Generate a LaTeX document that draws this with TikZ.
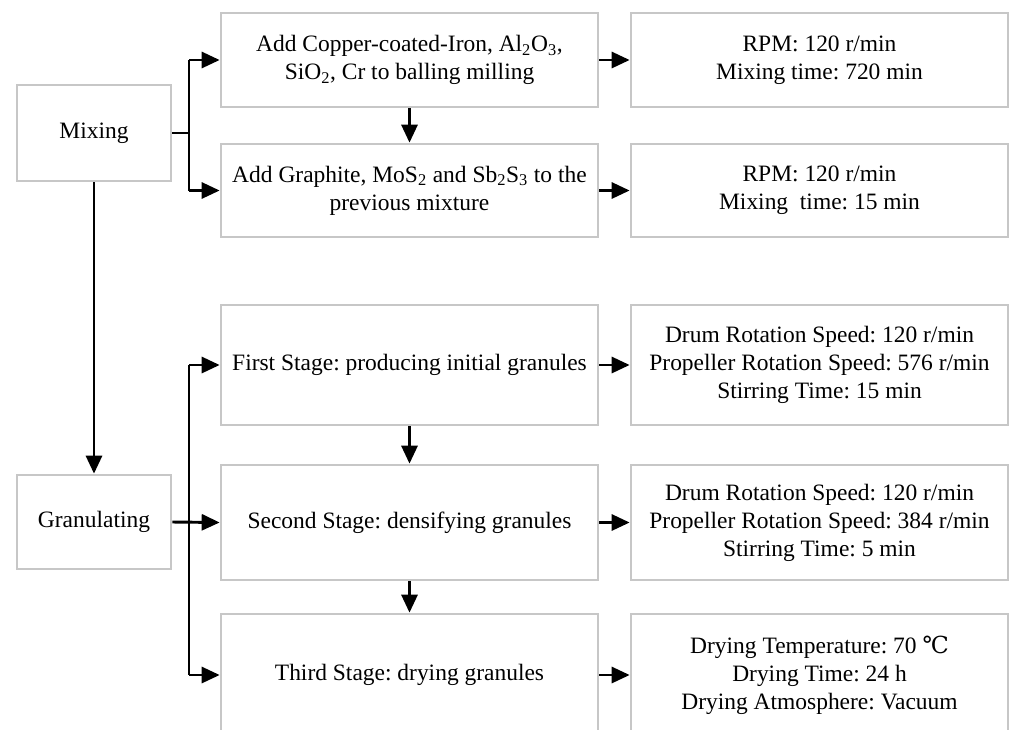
\documentclass[tikz,border=0pt]{standalone}
\usepackage{fontspec}
\setmainfont{Liberation Serif}
\newfontfamily\symfont{DejaVu Serif}
\usetikzlibrary{arrows.meta}
\frenchspacing
\begin{document}
\begin{tikzpicture}[x=0.75pt,y=-0.75pt,
  box/.style={draw=black!22,line width=2pt,fill=white,align=center,inner sep=0pt,
    font=\fontsize{17.6}{21}\selectfont\frenchspacing},
  lbox/.style={box,minimum width=282.75pt},
  conn/.style={line width=2.2pt,black},
  arr/.style={conn,-{Triangle[length=13.5pt,width=12pt]}}]
\useasboundingbox (0,0) rectangle (1011,729);
\clip (0,0) rectangle (1011,729);
% left column
\node[box,minimum width=115.5pt,minimum height=72pt] (mix) at (94,133) {Mixing};
\node[box,minimum width=115.5pt,minimum height=70.5pt] (gran) at (94,522) {Granulating};
% middle column
\node[lbox,minimum height=70.5pt] (a1) at (409.5,60) {Add Copper-coated-Iron, Al\textsubscript{2}O\textsubscript{3},\\SiO\textsubscript{2}, Cr to balling milling};
\node[lbox,minimum height=69.75pt] (a2) at (409.5,190.5) {Add Graphite, MoS\textsubscript{2} and Sb\textsubscript{2}S\textsubscript{3} to the\\previous mixture};
\node[lbox,minimum height=90pt] (s1) at (409.5,365) {First Stage: producing initial granules};
\node[lbox,minimum height=86.25pt] (s2) at (409.5,522.5) {Second Stage: densifying granules};
\node[lbox,minimum height=91.5pt] (s3) at (409.5,675) {Third Stage: drying granules};
% right column
\node[lbox,minimum height=70.5pt] (r1) at (819.5,60) {RPM: 120 r/min\\Mixing time: 720 min};
\node[lbox,minimum height=69.75pt] (r2) at (819.5,190.5) {RPM: 120 r/min\\Mixing\ \ time: 15 min};
\node[lbox,minimum height=90pt] (q1) at (819.5,365) {Drum Rotation Speed: 120 r/min\\Propeller Rotation Speed: 576 r/min\\Stirring Time: 15 min};
\node[lbox,minimum height=86.25pt] (q2) at (819.5,522.5) {Drum Rotation Speed: 120 r/min\\Propeller Rotation Speed: 384 r/min\\Stirring Time: 5 min};
\node[lbox,minimum height=91.5pt] (q3) at (819.5,675) {Drying Temperature: 70 {\symfont ℃}\\Drying Time: 24 h\\Drying Atmosphere: Vacuum};
% branch coordinates
\coordinate (mb) at (189,133);
\coordinate (mt) at (189,60);
\coordinate (mbt) at (189,190.5);
\coordinate (gt) at (189,365);
\coordinate (gb) at (189,675);
% connectors
\draw[conn] (mix.east) -- (mb);
\draw[conn] (mt) -- (mbt);
\draw[arr] (mt) -- (a1.west);
\draw[arr] (mbt) -- (a2.west);
\draw[arr] (mix.south) -- (gran.north);
\draw[conn] (gt) -- (gb);
\draw[arr] (gran.east) -- (s2.west);
\draw[arr] (gt) -- (s1.west);
\draw[arr] (gb) -- (s3.west);
\draw[arr] (a1.south) -- (a2.north);
\draw[arr] (s1.south) -- (s2.north);
\draw[arr] (s2.south) -- (s3.north);
\draw[arr] (a1.east) -- (r1.west);
\draw[arr] (a2.east) -- (r2.west);
\draw[arr] (s1.east) -- (q1.west);
\draw[arr] (s2.east) -- (q2.west);
\draw[arr] (s3.east) -- (q3.west);
\end{tikzpicture}
\end{document}
